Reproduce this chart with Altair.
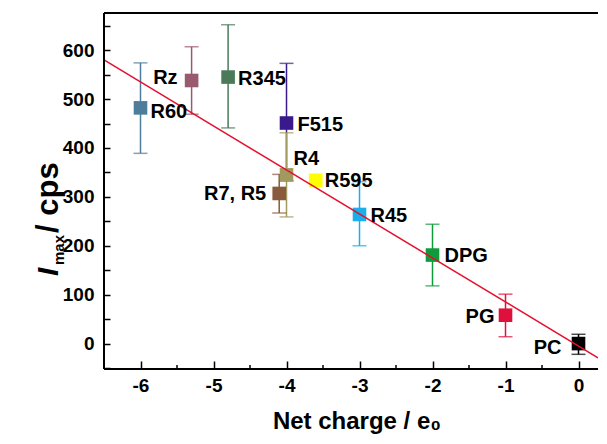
import altair as alt
import pandas as pd

# ---- data ----
names = ["R60", "Rz", "R345", "F515", "R4", "R7, R5", "R595", "R45", "DPG", "PG", "PC"]
charge = [-6.0, -5.3, -4.8, -4.0, -4.0, -4.1, -3.6, -3.0, -2.0, -1.0, 0.0]
imax = [482, 538, 545, 451, 345, 307, 334, 264, 181, 58, 0]
err_lo = [389, 469, 441, 333, 259, 267, 328, 200, 118, 14, -22]
err_hi = [574, 607, 652, 573, 431, 346, 340, 331, 244, 101, 19]
colors = ["#4d7d9a", "#9a5a6e", "#4a7a5a", "#3a1a8a", "#a09a60", "#8a5a3c",
          "#ffff00", "#1aaeea", "#0f9a3c", "#e0103c", "#000000"]

fit_x = [-6.5, 0.267]
fit_y = [580, -29]

x_major = [-6, -5, -4, -3, -2, -1, 0]
x_minor = [-6.5, -5.5, -4.5, -3.5, -2.5, -1.5, -0.5]
y_ticks = [-50, 0, 50, 100, 150, 200, 250, 300, 350, 400, 450, 500, 550, 600, 650]

# ---- layout / style ----
W, H = 494, 356
FONT = "Liberation Sans"
label_style = {  # align, dx, dy
    "R60": ("left", 10, 4),
    "Rz": ("right", -14, -2),
    "R345": ("left", 10, 2),
    "F515": ("left", 11, 2),
    "R4": ("left", 7, -16),
    "R7, R5": ("right", -13, 1),
    "R595": ("left", 9, 1),
    "R45": ("left", 11, 2),
    "DPG": ("left", 12, 1),
    "PG": ("right", -11, 2),
    "PC": ("right", -17, 4),
}

df = pd.DataFrame({"name": names, "charge": charge, "imax": imax,
                   "lo": err_lo, "hi": err_hi})
fit = pd.DataFrame({"charge": fit_x, "imax": fit_y})
minor = pd.DataFrame({"charge": x_minor})

xscale = alt.Scale(domain=[-6.5, 0.267], nice=False, zero=False)
yscale = alt.Scale(domain=[-52, 676], nice=False, zero=False)

x_axis = alt.Axis(values=x_major, offset=-8, tickSize=8, tickWidth=1.5, tickColor="black",
                  domain=False, grid=False, labelFont=FONT, labelFontSize=19,
                  labelFontWeight="bold", labelColor="black", labelPadding=7,
                  labelExpr="'' + datum.value",
                  labelFlush=False, labelOverlap=False, title=None)
y_axis = alt.Axis(values=y_ticks, offset=-6, tickSize=6, tickWidth=1.5, tickColor="black",
                  domain=False, grid=False, labelFont=FONT, labelFontSize=19,
                  labelFontWeight="bold", labelColor="black", labelPadding=10,
                  labelExpr="datum.value % 100 === 0 ? '' + datum.value : ''",
                  labelFlush=False, labelOverlap=False, title=None)

X = alt.X("charge:Q", scale=xscale, axis=x_axis)
Y = alt.Y("imax:Q", scale=yscale, axis=y_axis)
C = alt.Color("name:N", scale=alt.Scale(domain=names, range=colors), legend=None)

base = alt.Chart(df)

bars = base.mark_rule(strokeWidth=1.5).encode(
    x=X, y=alt.Y("lo:Q", scale=yscale, axis=y_axis), y2="hi:Q", color=C)
cap_lo = base.mark_tick(orient="horizontal", size=14, thickness=1.5).encode(
    x=X, y=alt.Y("lo:Q", scale=yscale, axis=y_axis), color=C)
cap_hi = base.mark_tick(orient="horizontal", size=14, thickness=1.5).encode(
    x=X, y=alt.Y("hi:Q", scale=yscale, axis=y_axis), color=C)
squares = base.mark_square(size=185, opacity=1, filled=True).encode(x=X, y=Y, color=C)

line = alt.Chart(fit).mark_line(color="#e4102e", strokeWidth=1.5).encode(x=X, y=Y)

ticks_minor = alt.Chart(minor).mark_rule(color="black", strokeWidth=1.5).encode(
    x=X, y=alt.value(H), y2=alt.value(H - 4))

labels = []
for n in names:
    a, dx, dy = label_style[n]
    labels.append(
        base.transform_filter(alt.datum.name == n)
        .mark_text(align=a, baseline="middle", dx=dx, dy=dy, font=FONT,
                   fontSize=20, fontWeight="bold", color="black")
        .encode(x=X, y=Y, text="name:N")
    )

frame_top = alt.Chart(df).mark_rule(color="black", strokeWidth=1.5).encode(
    x=alt.value(0), x2=alt.value(W), y=alt.value(0))
frame_left = alt.Chart(df).mark_rule(color="black", strokeWidth=1.5).encode(
    x=alt.value(0), y=alt.value(0), y2=alt.value(H))
frame_bottom = alt.Chart(df).mark_rule(color="black", strokeWidth=1.5).encode(
    x=alt.value(0), x2=alt.value(W), y=alt.value(H))

ttl = pd.DataFrame({"t": ["I", "max", "/ cps", "Net charge / e\u2080"]})
t_I = alt.Chart(ttl).transform_filter(alt.datum.t == "I").mark_text(
    angle=270, align="left", baseline="alphabetic", font=FONT, fontSize=30,
    fontWeight="bold", fontStyle="italic", color="black").encode(
    x=alt.value(-46), y=alt.value(263), text="t:N")
t_max = alt.Chart(ttl).transform_filter(alt.datum.t == "max").mark_text(
    angle=270, align="left", baseline="alphabetic", font=FONT, fontSize=15,
    fontWeight="bold", color="black").encode(
    x=alt.value(-40), y=alt.value(252), text="t:N")
t_cps = alt.Chart(ttl).transform_filter(alt.datum.t == "/ cps").mark_text(
    angle=270, align="left", baseline="alphabetic", font=FONT, fontSize=31,
    fontWeight="bold", color="black").encode(
    x=alt.value(-46), y=alt.value(220), text="t:N")
t_x = alt.Chart(ttl).transform_filter(alt.datum.t == "Net charge / e\u2080").mark_text(
    align="center", baseline="alphabetic", font=FONT, fontSize=24,
    fontWeight="bold", color="black").encode(
    x=alt.value(253), y=alt.value(416), text="t:N")

chart = alt.layer(
    bars, cap_lo, cap_hi, squares, line, ticks_minor, *labels,
    frame_top, frame_left, frame_bottom, t_I, t_max, t_cps, t_x
).properties(
    width=W, height=H,
    autosize=alt.AutoSizeParams(type="none"),
    padding={"left": 96, "top": 5, "right": 0, "bottom": 67},
    background="white",
).configure_view(strokeWidth=0)

chart.save("out.html", embed_options={"renderer": "svg", "actions": False})
